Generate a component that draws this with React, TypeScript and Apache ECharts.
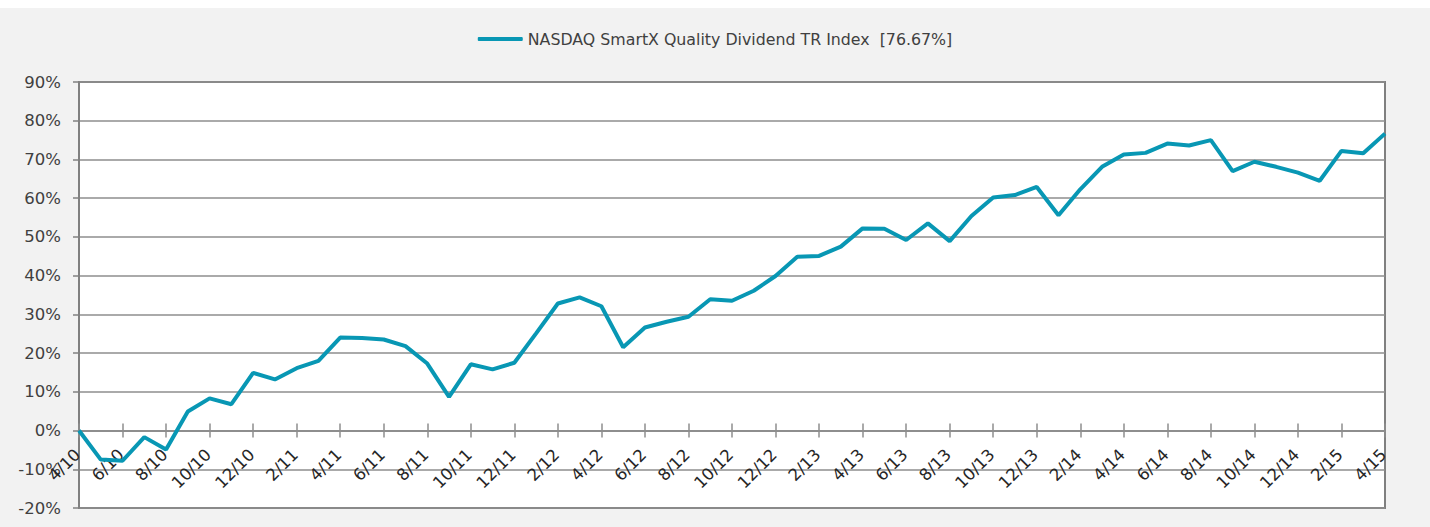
import React, { useEffect, useRef } from "react";
import * as echarts from "echarts";

const seriesName = "NASDAQ SmartX Quality Dividend TR Index  [76.67%]";

const months: string[] = [
  "4/10", "5/10", "6/10", "7/10", "8/10", "9/10", "10/10", "11/10", "12/10",
  "1/11", "2/11", "3/11", "4/11", "5/11", "6/11", "7/11", "8/11", "9/11", "10/11", "11/11", "12/11",
  "1/12", "2/12", "3/12", "4/12", "5/12", "6/12", "7/12", "8/12", "9/12", "10/12", "11/12", "12/12",
  "1/13", "2/13", "3/13", "4/13", "5/13", "6/13", "7/13", "8/13", "9/13", "10/13", "11/13", "12/13",
  "1/14", "2/14", "3/14", "4/14", "5/14", "6/14", "7/14", "8/14", "9/14", "10/14", "11/14", "12/14",
  "1/15", "2/15", "3/15", "4/15",
];

const indexReturn: number[] = [
  0, -7.5, -7.8, -1.7, -4.9, 4.9, 8.3, 6.8, 14.9,
  13.2, 16.1, 18.0, 24.0, 23.9, 23.5, 21.8, 17.3, 8.7, 17.1, 15.8, 17.5,
  25.1, 32.8, 34.4, 32.1, 21.5, 26.6, 28.1, 29.4, 33.9, 33.5, 36.1, 39.9,
  44.9, 45.1, 47.5, 52.2, 52.1, 49.2, 53.5, 48.9, 55.4, 60.2, 60.8, 62.9,
  55.6, 62.3, 68.1, 71.3, 71.7, 74.1, 73.6, 75.0, 67.0, 69.4, 68.1, 66.6,
  64.5, 72.2, 71.6, 76.67,
];

const yMin = -20;
const yMax = 90;
const yStep = 10;

const FONT = "DejaVu Sans";

// plot layout (px, inside the chart div)
const PLOT_LEFT = 79;
const PLOT_RIGHT = 45;
const PLOT_TOP = 74;
const PLOT_HEIGHT = 426;
const CHART_H = 519;

export default function App() {
  const ref = useRef<HTMLDivElement>(null);

  useEffect(() => {
    document.body.style.margin = "0";
    if (!ref.current) return;
    const chart = echarts.init(ref.current, undefined, { renderer: "svg" });
    const gridColor = "#8e8e8e";
    // height of the axis grid so that its bottom edge sits on the 0% line
    const zeroOffset = (PLOT_HEIGHT * (yMax - 0)) / (yMax - yMin);
    chart.setOption({
      animation: false,
      backgroundColor: "#f2f2f2",
      textStyle: { fontFamily: FONT },
      legend: {
        show: true,
        left: "center",
        top: 18,
        icon: "roundRect",
        itemWidth: 45,
        itemHeight: 4,
        textStyle: { fontFamily: FONT, fontSize: 15.8, color: "#404040" },
        data: [seriesName],
      },
      grid: [
        {
          left: PLOT_LEFT,
          right: PLOT_RIGHT,
          top: PLOT_TOP,
          bottom: CHART_H - PLOT_TOP - PLOT_HEIGHT,
          show: true,
          backgroundColor: "#ffffff",
          borderColor: "#808080",
          borderWidth: 2,
          containLabel: false,
          outerBoundsMode: "none",
        },
        {
          left: PLOT_LEFT,
          right: PLOT_RIGHT,
          top: PLOT_TOP,
          height: zeroOffset,
          show: false,
          containLabel: false,
          outerBoundsMode: "none",
        },
      ],
      xAxis: [
        {
          type: "category",
          gridIndex: 0,
          data: months,
          boundaryGap: false,
          axisLine: { show: false },
          axisTick: { show: false },
          axisLabel: { show: false },
          splitLine: { show: false },
        },
        {
          type: "category",
          gridIndex: 1,
          data: months,
          boundaryGap: false,
          position: "bottom",
          axisLine: { show: true, onZero: false, lineStyle: { color: gridColor, width: 2 } },
          axisTick: { show: true, interval: 1, length: 7, lineStyle: { color: gridColor, width: 1.5 } },
          axisLabel: {
            show: true,
            interval: 1,
            rotate: 45,
            margin: 20,
            align: "right",
            verticalAlign: "middle",
            padding: [0, 2, 0, 0],
            fontFamily: FONT,
            fontSize: 16.5,
            color: "#262626",
          },
          splitLine: { show: false },
        },
        {
          type: "category",
          gridIndex: 1,
          data: months,
          boundaryGap: false,
          position: "bottom",
          axisLine: { show: false, onZero: false },
          axisTick: { show: true, inside: true, interval: 1, length: 7, lineStyle: { color: gridColor, width: 1.5 } },
          axisLabel: { show: false },
          splitLine: { show: false },
        },
      ],
      yAxis: [
        {
          type: "value",
          gridIndex: 0,
          min: yMin,
          max: yMax,
          interval: yStep,
          axisLine: { show: true, lineStyle: { color: "#808080", width: 2 } },
          axisTick: { show: true, length: 6, lineStyle: { color: "#808080", width: 1.5 } },
          axisLabel: {
            formatter: "{value}%",
            margin: 18,
            fontFamily: FONT,
            fontSize: 16.5,
            color: "#404040",
          },
          splitLine: { show: true, lineStyle: { color: gridColor, width: 1.5 } },
        },
        {
          type: "value",
          gridIndex: 1,
          min: 0,
          max: 1,
          show: false,
          splitLine: { show: false },
        },
      ],
      series: [
        {
          name: seriesName,
          type: "line",
          xAxisIndex: 0,
          yAxisIndex: 0,
          data: indexReturn,
          showSymbol: false,
          symbol: "none",
          lineStyle: { color: "#0897b4", width: 4 },
          itemStyle: { color: "#0897b4" },
        },
      ],
    });
    return () => chart.dispose();
  }, []);

  return (
    <div style={{ width: 1430, height: 527, background: "#ffffff", paddingTop: 8, boxSizing: "border-box" }}>
      <div ref={ref} style={{ width: 1430, height: CHART_H }} />
    </div>
  );
}
